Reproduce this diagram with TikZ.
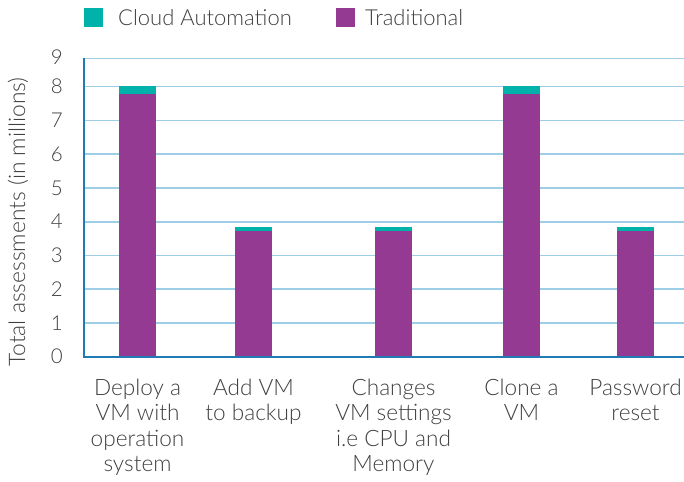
\documentclass[tikz,border=0pt]{standalone}
\usepackage{fontspec}
\IfFontExistsTF{Lato Light}{\setmainfont{Lato Light}}{\setmainfont{Lato}}
\definecolor{cloudteal}{RGB}{0,178,170}
\definecolor{tradpurple}{RGB}{148,58,146}
\definecolor{axisblue}{RGB}{31,122,181}
\definecolor{gridblue}{RGB}{158,206,229}
\definecolor{txtgray}{RGB}{64,64,64}
\begin{document}
\begin{tikzpicture}[x=1pt,y=-1pt,
  lbl/.style={font=\fontsize{22.6}{25.5}\selectfont, text=txtgray, align=center, inner sep=0pt, anchor=north},
  ticklbl/.style={font=\fontsize{20.5}{20.5}\selectfont, text=txtgray, anchor=east, inner sep=0pt},
  legtxt/.style={font=\fontsize{22}{22}\selectfont, text=txtgray, anchor=base west, inner sep=0pt},
  gridln/.style={draw=gridblue, line width=1.6pt},
  axisln/.style={draw=axisblue, line width=2pt},
  tradbar/.style={fill=tradpurple},
  cloudbar/.style={fill=cloudteal}]
\useasboundingbox (0,0) rectangle (684,481);
% grid lines
\draw[gridln] (84,58.7) -- (684,58.7);
\foreach \i in {1,...,8}{
  \draw[gridln] (84,356.7-33.75*\i) -- (684,356.7-33.75*\i);
}
% tick labels
\node[ticklbl] (t9) at (63,57.5) {9};
\foreach \i in {0,...,8}{
  \node[ticklbl] (t\i) at (63,356.7-33.75*\i) {\i};
}
% bars
\newcommand{\drawbar}[4]{%
  \fill[tradbar] (#1-18.5,356.7) rectangle (#1+18.5,#2);
  \fill[cloudbar] (#1-18.5,#2) rectangle (#1+18.5,#3);
  \coordinate (#4) at (#1,378.8);
}
\drawbar{137.5}{94}{86}{c1}
\drawbar{253.5}{231}{227}{c2}
\drawbar{393.5}{231}{227}{c3}
\drawbar{521.5}{94}{86}{c4}
\drawbar{635.5}{231}{227}{c5}
% axes
\draw[axisln] (84,57.7) -- (84,356.7) -- (684,356.7);
% category labels
\node[lbl] (l1) at (c1) {Deploy a\\VM with\\operation\\system};
\node[lbl] (l2) at (c2) {Add VM\\to backup};
\node[lbl] (l3) at (c3) {Changes\\VM settings\\i.e CPU and\\Memory};
\node[lbl] (l4) at (c4) {Clone a\\VM};
\node[lbl] (l5) at (c5) {Password\\reset};
% axis title
\node[font=\fontsize{22.8}{22.8}\selectfont, text=txtgray, rotate=90, inner sep=0pt] (ytitle) at (18,222) {Total assessments (in millions)};
% legend
\fill[cloudbar] (84,8.3) rectangle (102.7,26.7);
\node[legtxt] (leg1) at (118,26) {Cloud Automation};
\fill[tradbar] (336,8.3) rectangle (355,26.7);
\node[legtxt] (leg2) at (365,26) {Traditional};
\end{tikzpicture}
\end{document}
